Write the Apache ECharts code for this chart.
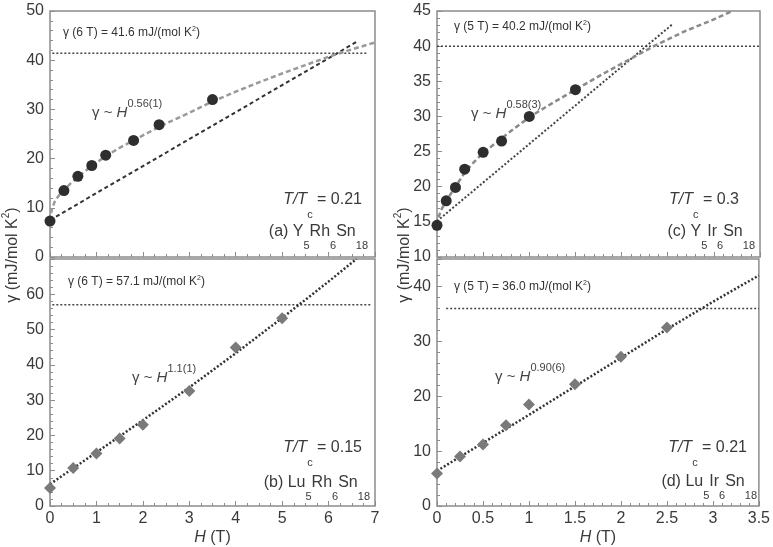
<!DOCTYPE html>
<html>
<head>
<meta charset="utf-8">
<script src="https://cdn.jsdelivr.net/npm/echarts@6/dist/echarts.min.js"></script>
<style>
  html, body { margin: 0; background: #fff; }
  #chart { width: 773px; height: 547px; }
</style>
</head>
<body>
<div id="chart"></div>
<script>
// (a) Y5Rh6Sn18
const aH = [0, 0.3, 0.6, 0.9, 1.2, 1.8, 2.35, 3.5]
const aGamma = [7.3, 13.5, 16.4, 18.6, 20.7, 23.7, 26.9, 32.0]
const aFitH = [0, 0.02, 0.05, 0.1, 0.15, 0.2, 0.3, 0.45, 0.6, 0.9, 1.2, 1.5, 1.8, 2.1, 2.4, 3.0, 3.5, 4.0, 4.5, 5.0, 5.5, 6.0, 6.5, 7]
const aFitG = [7.3, 8.8, 10.0, 11.2, 12.0, 12.6, 13.6, 15.0, 16.3, 18.5, 20.5, 22.2, 23.7, 25.2, 26.7, 29.3, 31.6, 33.6, 35.5, 37.3, 39.0, 40.7, 42.2, 43.6]
const aLineH = [0, 6.6]
const aLineG = [7.5, 43.7]
const aRefH = [0.05, 6.85]
const aRefG = 41.4

// (b) Lu5Rh6Sn18
const bH = [0, 0.5, 1, 1.5, 2, 3, 4, 5]
const bGamma = [5.1, 10.8, 14.9, 19.1, 23.0, 32.6, 44.9, 53.2]
const bFitH = [0, 1, 2, 3, 4, 5, 6, 6.6]
const bFitG = [6.2, 15.2, 24.3, 33.6, 43.3, 53.3, 63.6, 70]
const bRefH = [0.05, 6.9]
const bRefG = 57.0

// (c) Y5Ir6Sn18
const cH = [0, 0.1, 0.2, 0.3, 0.5, 0.7, 1.0, 1.5]
const cGamma = [14.5, 18.0, 19.9, 22.5, 24.9, 26.5, 30.0, 33.8]
const cFitH = [0, 0.02, 0.05, 0.1, 0.15, 0.2, 0.3, 0.4, 0.5, 0.7, 1.0, 1.25, 1.5, 1.75, 2.0, 2.35, 2.7, 3.0, 3.2]
const cFitG = [14.5, 15.8, 16.8, 18.0, 19.0, 20.0, 22.0, 23.5, 24.8, 26.9, 29.9, 31.9, 33.8, 35.7, 37.5, 40.0, 42.2, 43.8, 45]
const cLineH = [0, 2.55]
const cLineG = [15.1, 43.1]
const cRefH = [0, 3.5]
const cRefG = 40.0

// (d) Lu5Ir6Sn18
const dH = [0, 0.25, 0.5, 0.75, 1, 1.5, 2, 2.5]
const dGamma = [5.9, 9.0, 11.2, 14.7, 18.5, 22.2, 27.2, 32.5]
const dFitH = [0, 0.5, 1, 1.5, 2, 2.5, 3, 3.5]
const dFitG = [6.4, 11.5, 16.6, 21.8, 27.0, 32.2, 37.2, 42.0]
const dRefH = [0.1, 3.5]
const dRefG = 36.0

const FONT = '"Liberation Sans", Arial, sans-serif'
const TXT = '#3a3a3a'
const FRAME = '#8c8c8c'

const pairs = (xs, ys) => xs.map((x, i) => [x, ys[i]])
const flat = (xs, y) => xs.map(x => [x, y])

function xAxis(grid, max, interval, minorSplit, labels) {
  return {
    type: 'value', gridIndex: grid, min: 0, max, interval,
    axisLine: { show: false },
    axisTick: { inside: true, length: 5, lineStyle: { color: FRAME } },
    minorTick: { show: true, splitNumber: minorSplit, length: 3, lineStyle: { color: FRAME } },
    splitLine: { show: false },
    axisLabel: { show: labels, color: TXT, fontSize: 16, fontFamily: FONT, margin: 5 },
    name: labels ? '{i|H} (T)' : '',
    nameLocation: 'middle', nameGap: 24,
    nameTextStyle: {
      color: TXT, fontSize: 16, fontFamily: FONT,
      rich: { i: { fontStyle: 'italic', fontSize: 16, fontFamily: FONT, color: TXT } }
    }
  }
}

function yAxis(grid, min, max, interval, showMax) {
  return {
    type: 'value', gridIndex: grid, min, max, interval,
    axisLine: { show: false },
    axisTick: { inside: true, length: 5, lineStyle: { color: FRAME } },
    minorTick: { show: true, splitNumber: 5, length: 3, lineStyle: { color: FRAME } },
    splitLine: { show: false },
    axisLabel: { color: TXT, fontSize: 16, fontFamily: FONT, margin: 6, showMaxLabel: showMax }
  }
}

function dots(i, data, symbol, color, size) {
  return {
    type: 'scatter', xAxisIndex: i, yAxisIndex: i, data, symbol, symbolSize: size,
    itemStyle: { color, opacity: 1 }, z: 5, silent: true
  }
}

function line(i, data, color, width, dash) {
  return {
    type: 'line', xAxisIndex: i, yAxisIndex: i, data, showSymbol: false,
    lineStyle: { color, width, type: dash }, z: 3, silent: true
  }
}

// texte annexe
const rich = {
  n: { fontSize: 16, lineHeight: 38, verticalAlign: 'middle', fill: TXT, fontFamily: FONT },
  it: { fontSize: 16, lineHeight: 40, verticalAlign: 'middle', fill: TXT, fontFamily: FONT, fontStyle: 'italic' },
  sub: { fontSize: 11, lineHeight: 11, verticalAlign: 'bottom', fill: TXT, fontFamily: FONT },
  g: { fontSize: 15, lineHeight: 30, verticalAlign: 'middle', fill: '#444', fontFamily: FONT, fontStyle: 'italic' },
  gn: { fontSize: 15, lineHeight: 30, verticalAlign: 'middle', fill: '#444', fontFamily: FONT },
  sup: { fontSize: 11, lineHeight: 11, verticalAlign: 'top', fill: '#444', fontFamily: FONT },
  s: { fontSize: 12, lineHeight: 14, verticalAlign: 'middle', fill: '#333', fontFamily: FONT },
  ss: { fontSize: 7, lineHeight: 7, verticalAlign: 'top', fill: '#333', fontFamily: FONT },
  ax: { fontSize: 16, lineHeight: 24, verticalAlign: 'middle', fill: TXT, fontFamily: FONT },
  axs: { fontSize: 10, lineHeight: 10, verticalAlign: 'top', fill: TXT, fontFamily: FONT }
}

function label(x, y, text, align) {
  return { type: 'text', silent: true, style: { x, y, text, rich, align: align || 'left', verticalAlign: 'middle' } }
}

const lab = [
  label(63, 33, '{s|γ (6 T) = 41.6 mJ/(mol K}{ss|2}{s|)}'),
  label(92, 113, '{gn|γ ~ }{g|H}{sup|0.56(1)}'),
  label(362, 200, '{it|T/T}{sub|c}{n| = 0.21}', 'right'),
  label(368, 232, '{n|(a) Y}{sub|5}{n|Rh}{sub|6}{n|Sn}{sub|18}', 'right'),

  label(68, 282, '{s|γ (6 T) = 57.1 mJ/(mol K}{ss|2}{s|)}'),
  label(132, 378, '{gn|γ ~ }{g|H}{sup|1.1(1)}'),
  label(362, 448, '{it|T/T}{sub|c}{n| = 0.15}', 'right'),
  label(370, 483, '{n|(b) Lu}{sub|5}{n|Rh}{sub|6}{n|Sn}{sub|18}', 'right'),

  label(454, 27, '{s|γ (5 T) = 40.2 mJ/(mol K}{ss|2}{s|)}'),
  label(471, 114, '{gn|γ ~ }{g|H}{sup|0.58(3)}'),
  label(739, 200, '{it|T/T}{sub|c}{n| = 0.3}', 'right'),
  label(755, 232, '{n|(c) Y}{sub|5}{n|Ir}{sub|6}{n|Sn}{sub|18}', 'right'),

  label(454, 287, '{s|γ (5 T) = 36.0 mJ/(mol K}{ss|2}{s|)}'),
  label(495, 377, '{gn|γ ~ }{g|H}{sup|0.90(6)}'),
  label(747, 448, '{it|T/T}{sub|c}{n| = 0.21}', 'right'),
  label(757, 482, '{n|(d) Lu}{sub|5}{n|Ir}{sub|6}{n|Sn}{sub|18}', 'right')
]

const yTitle = '{ax|γ (mJ/mol K}{axs|2}{ax|)}'
for (const x of [13, 405]) {
  lab.push({
    type: 'text', silent: true, x, y: 255, rotation: Math.PI / 2,
    style: { x: 0, y: 0, text: yTitle, rich, align: 'center', verticalAlign: 'middle' }
  })
}

const gridBox = { show: true, borderColor: FRAME, borderWidth: 1.5, backgroundColor: 'transparent' }

const chart = echarts.init(document.getElementById('chart'))
chart.setOption({
  backgroundColor: '#fff',
  animation: false,
  grid: [
    { left: 50, top: 11, width: 325, height: 246, ...gridBox },
    { left: 50, top: 259, width: 325, height: 247, ...gridBox },
    { left: 437, top: 11, width: 323, height: 246, ...gridBox },
    { left: 437, top: 259, width: 323, height: 247, ...gridBox }
  ],
  xAxis: [
    xAxis(0, 7, 1, 4, false),
    xAxis(1, 7, 1, 4, true),
    xAxis(2, 3.5, 0.5, 5, false),
    xAxis(3, 3.5, 0.5, 5, true)
  ],
  yAxis: [
    yAxis(0, 0, 50, 10, true),
    yAxis(1, 0, 70, 10, false),
    yAxis(2, 10, 45, 5, true),
    yAxis(3, 0, 45, 10, false)
  ],
  series: [
    line(0, flat(aRefH, aRefG), '#444', 1.5, [2, 2]),
    line(0, pairs(aLineH, aLineG), '#333', 2, [4, 3]),
    line(0, pairs(aFitH, aFitG), '#9a9a9a', 2.5, [5, 3]),
    dots(0, pairs(aH, aGamma), 'circle', '#2e2e2e', 11),

    line(1, flat(bRefH, bRefG), '#444', 1.5, [2, 2]),
    line(1, pairs(bFitH, bFitG), '#333', 2.5, [2, 2]),
    dots(1, pairs(bH, bGamma), 'diamond', '#7a7a7a', 12),

    line(2, flat(cRefH, cRefG), '#444', 1.5, [2, 2]),
    line(2, pairs(cLineH, cLineG), '#444', 2, [2, 2]),
    line(2, pairs(cFitH, cFitG), '#8a8a8a', 2.5, [5, 3]),
    dots(2, pairs(cH, cGamma), 'circle', '#2e2e2e', 11),

    line(3, flat(dRefH, dRefG), '#444', 1.5, [2, 2]),
    line(3, pairs(dFitH, dFitG), '#333', 2.5, [2, 2]),
    dots(3, pairs(dH, dGamma), 'diamond', '#7a7a7a', 12)
  ],
  graphic: lab
})
</script>
</body>
</html>
